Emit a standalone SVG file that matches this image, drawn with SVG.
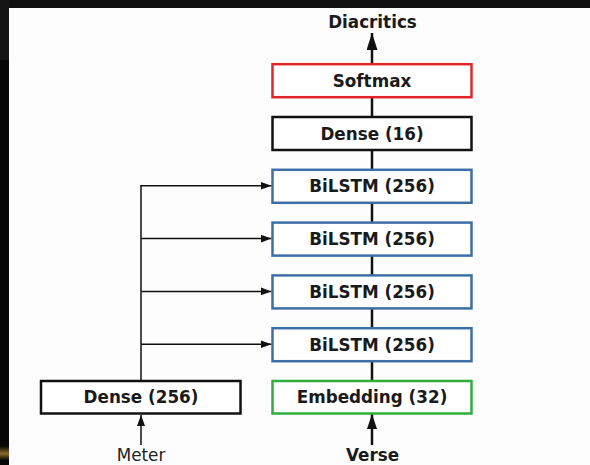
<svg xmlns="http://www.w3.org/2000/svg" width="590" height="465" viewBox="0 0 590 465">
  <defs>
    <style>
      .box { fill: #ffffff; stroke-width: 2.5; }
      .plain { stroke: #111111; }
      .soft { stroke: #e0262b; }
      .lstm { stroke: #3d6ea6; }
      .emb { stroke: #2fae3c; }
      .lbl { font-family: "DejaVu Sans", "Liberation Sans", sans-serif; font-weight: bold; font-size: 16.8px; fill: #1a1a1a; text-anchor: middle; }
      .io { font-family: "DejaVu Sans", "Liberation Sans", sans-serif; font-size: 16.8px; fill: #222222; text-anchor: middle; }
      .trunk { stroke: #111111; stroke-width: 2.5; fill: none; }
      .branch { stroke: #111111; stroke-width: 1.5; fill: none; }
    </style>
    <marker id="headBig" markerUnits="userSpaceOnUse" markerWidth="17" markerHeight="11" refX="17" refY="5.5" orient="auto" viewBox="0 0 17 11">
      <path d="M0,0 L17,5.5 L0,11 Z" fill="#111111"/>
    </marker>
    <marker id="headMid" markerUnits="userSpaceOnUse" markerWidth="15" markerHeight="10" refX="15" refY="5" orient="auto" viewBox="0 0 15 10">
      <path d="M0,0 L15,5 L0,10 Z" fill="#111111"/>
    </marker>
    <marker id="headSmall" markerUnits="userSpaceOnUse" markerWidth="11" markerHeight="8" refX="11" refY="4" orient="auto" viewBox="0 0 11 8">
      <path d="M0,0 L11,4 L0,8 Z" fill="#111111"/>
    </marker>
    <linearGradient id="edgeGlow" x1="0" y1="0" x2="0" y2="1">
      <stop offset="0" stop-color="#050505"/>
      <stop offset="0.55" stop-color="#8a6a2a"/>
      <stop offset="1" stop-color="#0a0a0a"/>
    </linearGradient>
  </defs>

  <!-- page background with dark frame edges -->
  <rect x="0" y="0" width="590" height="465" fill="#fdfdfd"/>
  <rect x="0" y="0" width="590" height="8" fill="#101010"/>
  <rect x="0" y="0" width="9" height="465" fill="#070707"/>
  <rect x="0" y="0" width="9" height="60" fill="#151515"/>
  <rect x="0" y="446" width="9" height="14" fill="url(#edgeGlow)"/>

  <!-- connectors -->
  <g id="connectors">
    <!-- main stack trunk -->
    <line class="trunk" x1="372" y1="445" x2="372" y2="414" marker-end="url(#headMid)"/>
    <line class="trunk" x1="372" y1="381" x2="372" y2="361"/>
    <line class="trunk" x1="372" y1="328" x2="372" y2="308"/>
    <line class="trunk" x1="372" y1="275" x2="372" y2="255"/>
    <line class="trunk" x1="372" y1="222" x2="372" y2="202"/>
    <line class="trunk" x1="372" y1="170" x2="372" y2="150"/>
    <line class="trunk" x1="372" y1="117" x2="372" y2="97"/>
    <line class="trunk" x1="372" y1="64" x2="372" y2="33" marker-end="url(#headBig)"/>
    <!-- meter input -->
    <line class="branch" x1="141" y1="445" x2="141" y2="415" marker-end="url(#headSmall)"/>
    <!-- meter fan-out to each BiLSTM -->
    <line class="branch" x1="141" y1="381" x2="141" y2="185.7"/>
    <line class="branch" x1="140.3" y1="185.8" x2="271.5" y2="185.8" marker-end="url(#headSmall)"/>
    <line class="branch" x1="141" y1="238.6" x2="271.5" y2="238.6" marker-end="url(#headSmall)"/>
    <line class="branch" x1="141" y1="291.4" x2="271.5" y2="291.4" marker-end="url(#headSmall)"/>
    <line class="branch" x1="141" y1="344.2" x2="271.5" y2="344.2" marker-end="url(#headSmall)"/>
  </g>

  <g id="softmax">
    <rect class="box soft" x="272.5" y="64.2" width="199" height="33"/>
    <text class="lbl" x="372" y="86.8">Softmax</text>
  </g>
  <g id="dense16">
    <rect class="box plain" x="272.5" y="117" width="199" height="33"/>
    <text class="lbl" x="372" y="139.6">Dense (16)</text>
  </g>
  <g id="bilstm1">
    <rect class="box lstm" x="272.5" y="169.8" width="199" height="33"/>
    <text class="lbl" x="372" y="192.4">BiLSTM (256)</text>
  </g>
  <g id="bilstm2">
    <rect class="box lstm" x="272.5" y="222.6" width="199" height="33"/>
    <text class="lbl" x="372" y="245.2">BiLSTM (256)</text>
  </g>
  <g id="bilstm3">
    <rect class="box lstm" x="272.5" y="275.4" width="199" height="33"/>
    <text class="lbl" x="372" y="298">BiLSTM (256)</text>
  </g>
  <g id="bilstm4">
    <rect class="box lstm" x="272.5" y="328.2" width="199" height="33"/>
    <text class="lbl" x="372" y="350.8">BiLSTM (256)</text>
  </g>
  <g id="embedding">
    <rect class="box emb" x="272.5" y="381" width="199" height="32.5"/>
    <text class="lbl" x="372" y="403.4">Embedding (32)</text>
  </g>
  <g id="dense256">
    <rect class="box plain" x="41" y="381" width="199.5" height="32.5"/>
    <text class="lbl" x="141" y="403.4">Dense (256)</text>
  </g>

  <g id="outputs">
    <text class="lbl" x="372.5" y="28">Diacritics</text>
    <text class="lbl" x="372.5" y="461">Verse</text>
    <text class="io" x="141" y="461">Meter</text>
  </g>
</svg>
